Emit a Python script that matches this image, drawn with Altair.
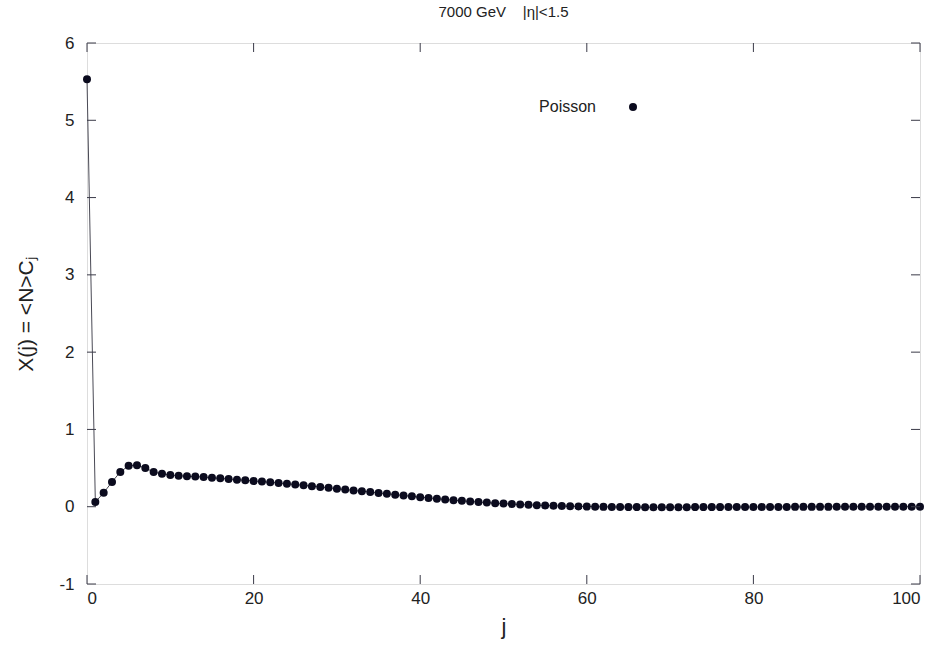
import altair as alt
import pandas as pd

# X(j) = <N> C_j for j = 0..100
j_values = list(range(101))
x_values = [
    5.53, 0.06, 0.18, 0.32, 0.45, 0.53, 0.535, 0.50, 0.45, 0.425,
    0.41, 0.40, 0.395, 0.39, 0.383, 0.375, 0.367, 0.358, 0.35, 0.342,
    0.333, 0.325, 0.316, 0.307, 0.297, 0.287, 0.277, 0.266, 0.255, 0.244,
    0.233, 0.222, 0.211, 0.20, 0.189, 0.178, 0.167, 0.156, 0.145, 0.134,
    0.124, 0.114, 0.104, 0.094, 0.085, 0.076, 0.068, 0.06, 0.053, 0.046,
    0.04, 0.034, 0.029, 0.024, 0.02, 0.016, 0.012, 0.009, 0.006, 0.004,
    0.002, 0.0, -0.002, -0.003, -0.004, -0.005, -0.005, -0.006, -0.006, -0.006,
    -0.006, -0.006, -0.006, -0.005, -0.005, -0.005, -0.005, -0.004, -0.004, -0.004,
    -0.004, -0.003, -0.003, -0.003, -0.003, -0.002, -0.002, -0.002, -0.002, -0.002,
    -0.001, -0.001, -0.001, -0.001, -0.001, -0.001, 0.0, 0.0, 0.0, 0.0,
    0.0,
]

x_ticks = [0, 20, 40, 60, 80, 100]
y_ticks = [-1, 0, 1, 2, 3, 4, 5, 6]

W, H = 833, 541
FONT = "Liberation Sans"
INK = "#0b0b1e"
FRAME = "#3a3a48"
TICK_LEN = 9
DOT = 64

df = pd.DataFrame({"j": j_values, "X": x_values})
xt = pd.DataFrame({"t": x_ticks})
yt = pd.DataFrame({"t": y_ticks})

x_scale = alt.Scale(domain=[0, 100], nice=False, zero=False)
y_scale = alt.Scale(domain=[-1, 6], nice=False, zero=False)

x_axis = alt.Axis(
    values=x_ticks, ticks=False, grid=False, domain=False,
    labelExpr="toString(datum.value)",
    labelFont=FONT, labelFontSize=17, labelColor="#222", labelPadding=6,
    title="j", titleFont=FONT, titleFontSize=22, titleFontWeight="normal",
    titleColor="#222", titlePadding=10,
)
y_axis = alt.Axis(
    values=y_ticks, ticks=False, grid=False, domain=False,
    labelExpr="toString(datum.value)",
    labelFont=FONT, labelFontSize=17, labelColor="#222", labelPadding=13,
    title="X(j) = <N>Cⱼ", titleFont=FONT, titleFontSize=21,
    titleFontWeight="normal", titleColor="#222", titlePadding=22,
)

line = alt.Chart(df).mark_line(color="#4a4a55", strokeWidth=1).encode(
    x=alt.X("j:Q", scale=x_scale, axis=x_axis),
    y=alt.Y("X:Q", scale=y_scale, axis=y_axis),
)
points = alt.Chart(df).mark_point(
    filled=True, shape="circle", size=DOT, color=INK, opacity=1
).encode(x=alt.X("j:Q", scale=x_scale), y=alt.Y("X:Q", scale=y_scale))

# inward ticks on all four sides
bottom_ticks = alt.Chart(xt).mark_rule(color=FRAME, strokeWidth=1).encode(
    x=alt.X("t:Q", scale=x_scale), y=alt.value(H), y2=alt.value(H - TICK_LEN)
)
top_ticks = alt.Chart(xt).mark_rule(color=FRAME, strokeWidth=1).encode(
    x=alt.X("t:Q", scale=x_scale), y=alt.value(0), y2=alt.value(TICK_LEN)
)
left_ticks = alt.Chart(yt).mark_rule(color=FRAME, strokeWidth=1).encode(
    y=alt.Y("t:Q", scale=y_scale), x=alt.value(0), x2=alt.value(TICK_LEN)
)
right_ticks = alt.Chart(yt).mark_rule(color=FRAME, strokeWidth=1).encode(
    y=alt.Y("t:Q", scale=y_scale), x=alt.value(W - TICK_LEN), x2=alt.value(W)
)

# key
key_label = alt.Chart(pd.DataFrame({"name": ["Poisson"]})).mark_text(
    font=FONT, fontSize=16, color="#222", align="right", baseline="middle"
).encode(x=alt.value(509), y=alt.value(64), text="name:N")
key_dot = alt.Chart(pd.DataFrame({"name": ["Poisson"]})).mark_point(
    filled=True, shape="circle", size=DOT, color=INK, opacity=1
).encode(x=alt.value(546), y=alt.value(64))

chart = alt.layer(
    line, points, bottom_ticks, top_ticks, left_ticks, right_ticks,
    key_label, key_dot,
).properties(
    width=W, height=H,
    title=alt.TitleParams(
        "7000 GeV\u00a0\u00a0\u00a0\u00a0|η|<1.5", font=FONT, fontSize=15,
        fontWeight="normal", color="#222", anchor="middle", offset=14,
    ),
    padding={"left": 87, "top": 43, "right": 25, "bottom": 62},
    autosize="none",
).configure_view(stroke=FRAME, strokeWidth=1.2).configure(background="white")

chart.save("out.html", embed_options={"renderer": "svg", "actions": False})
